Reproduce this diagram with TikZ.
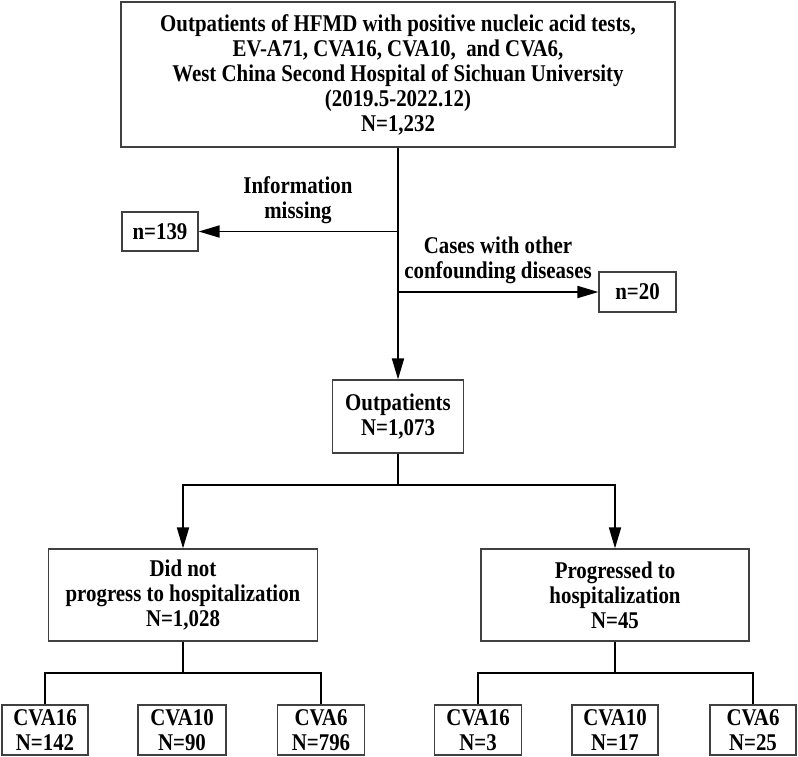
\documentclass[tikz,border=0pt]{standalone}
\usepackage{fontspec}
\setmainfont{Liberation Serif}[FakeStretch=0.87]
\usetikzlibrary{arrows.meta}
\begin{document}
\begin{tikzpicture}[x=1pt,y=-1pt,
  box/.style={draw=black!75,line width=1.2pt,inner sep=0pt,align=center,
    font=\fontsize{24}{25}\selectfont\bfseries},
  lbl/.style={inner sep=0pt,align=center,font=\fontsize{24}{25}\selectfont\bfseries},
  conn/.style={line width=1.8pt,black},
  arr/.style={conn,-{Triangle[length=21pt,width=12pt]}}]
\useasboundingbox (0,0) rectangle (798,756);
\fill[white] (0,0) rectangle (798,756);
% boxes
\node[box,minimum width=554pt,minimum height=145pt] (top) at (398,74.5)
  {Outpatients of HFMD with positive nucleic acid tests,\\
   EV-A71, CVA16, CVA10,~ and CVA6,\\
   West China Second Hospital of Sichuan University\\
   (2019.5-2022.12)\\
   N=1,232};
\node[box,minimum width=76pt,minimum height=39pt] (n139) at (160,231.5) {n=139};
\node[box,minimum width=77pt,minimum height=40pt] (n20) at (637.5,292) {n=20};
\node[box,minimum width=131pt,minimum height=73pt] (outp) at (398,416.5) {Outpatients\\N=1,073};
\node[box,minimum width=269pt,minimum height=92pt] (left) at (183,595)
  {Did not\\progress to hospitalization\\N=1,028};
\node[box,minimum width=268pt,minimum height=92pt] (right) at (615,595)
  {Progressed to\\hospitalization\\N=45};
\node[box,minimum width=86pt,minimum height=50pt] (L1) at (45,730) {CVA16\\N=142};
\node[box,minimum width=88pt,minimum height=50pt] (L2) at (182,730) {CVA10\\N=90};
\node[box,minimum width=87pt,minimum height=50pt] (L3) at (321,730) {CVA6\\N=796};
\node[box,minimum width=87pt,minimum height=50pt] (R1) at (478,730) {CVA16\\N=3};
\node[box,minimum width=86pt,minimum height=50pt] (R2) at (615,730) {CVA10\\N=17};
\node[box,minimum width=86pt,minimum height=50pt] (R3) at (753,730) {CVA6\\N=25};
% labels
\node[lbl] (linfo) at (298,200.5) {Information\\missing};
\node[lbl] (lcases) at (498,260) {Cases with other\\confounding diseases};
% connectors
\coordinate (j1) at (398,231.5);
\coordinate (j2) at (398,292);
\draw[arr] (top.south) -- (outp.north);
\draw[arr] (j1) -- (n139.east);
\draw[arr] (j2) -- (n20.west);
\coordinate (s) at (398,485);
\draw[conn] (outp.south) -- (s);
\draw[arr] (s) -| (left.north);
\draw[arr] (s) -| (right.north);
\coordinate (lb) at (183,673);
\coordinate (rb) at (615,673);
\draw[conn] (left.south) -- (lb);
\draw[conn] (L1.north) |- (lb) -| (L3.north);
\draw[conn] (right.south) -- (rb);
\draw[conn] (R1.north) |- (rb) -| (R3.north);
\end{tikzpicture}
\end{document}
